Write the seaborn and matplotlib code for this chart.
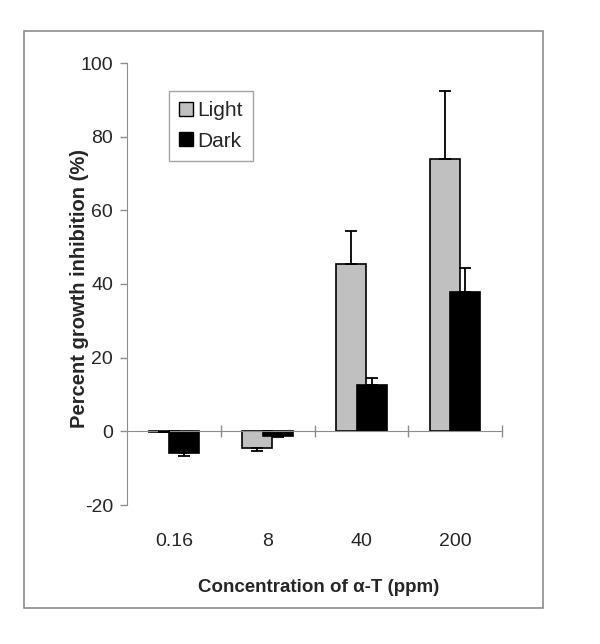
import matplotlib
matplotlib.use("Agg")
import matplotlib.pyplot as plt
import matplotlib.patches as mpatches
import numpy as np
import pandas as pd
import seaborn as sns

# data
categories = ['0.16', '8', '40', '200']
light = [-0.3, -4.6, 45.4, 74.0]
light_err = [0.0, 0.8, 8.9, 18.4]
dark = [-6.0, -1.4, 12.7, 37.8]
dark_err = [0.7, 0.2, 1.9, 6.5]
yticks = [-20, 0, 20, 40, 60, 80, 100]

sns.set_style('white')
plt.rcParams['font.family'] = ['Liberation Sans', 'DejaVu Sans']
plt.rcParams['axes.unicode_minus'] = False

df = pd.DataFrame({
    'conc': categories * 2,
    'value': light + dark,
    'light': ['Light'] * 4 + ['Dark'] * 4,
})

fig = plt.figure(figsize=(6, 6.44), dpi=100)
ax = fig.add_axes([127 / 600, 1 - 505 / 644, 375 / 600, 442 / 644])

# outer chart frame
fig.patches.append(mpatches.Rectangle((24 / 600, 1 - 608 / 644), 519 / 600, 577 / 644,
                                      transform=fig.transFigure, fill=False,
                                      edgecolor='#8c8c8c', linewidth=1.2))

sns.barplot(data=df, x='conc', y='value', hue='light', order=categories,
            hue_order=['Light', 'Dark'], palette=['#c0c0c0', 'black'],
            width=0.64, edgecolor='black', linewidth=1.2, errorbar=None,
            saturation=1, ax=ax)

# make the two series overlap a bit, like the original
shifts = [0.05, -0.05]
for cont, s in zip(ax.containers, shifts):
    for bar in cont:
        bar.set_x(bar.get_x() + s)

x = np.arange(len(categories))
for vals, errs, off in [(light, light_err, -0.11), (dark, dark_err, 0.11)]:
    vals = np.array(vals)
    errs = np.array(errs)
    lo = np.where(vals < 0, errs, 0)
    hi = np.where(vals >= 0, errs, 0)
    ax.errorbar(x + off, vals, yerr=[lo, hi], fmt='none', ecolor='black',
                elinewidth=1.3, capsize=4.5, capthick=1.3, zorder=3)

ax.set_xlim(-0.5, 3.5)
ax.set_ylim(-20, 100)
ax.set_yticks(yticks)

for side in ['top', 'right']:
    ax.spines[side].set_visible(False)
ax.spines['left'].set_color('#8c8c8c')
ax.spines['bottom'].set_color('#8c8c8c')
ax.spines['bottom'].set_position(('data', 0))

ax.set_xticks(x)
ax.set_xticks([0.5, 1.5, 2.5, 3.5], minor=True)
ax.tick_params(axis='x', which='major', length=0, pad=73, labelsize=14)
ax.tick_params(axis='x', which='minor', length=9, direction='inout',
               color='#8c8c8c', width=1, bottom=True)
ax.tick_params(axis='y', length=5, direction='out', color='#8c8c8c',
               width=1, left=True, labelsize=14, pad=5)

ax.set_xlabel('Concentration of α-T (ppm)', fontsize=13.5, fontweight='bold')
ax.xaxis.set_label_coords(0.51, -0.168)
ax.set_ylabel('Percent growth inhibition (%)', fontsize=14.5, fontweight='bold')
ax.yaxis.set_label_coords(-0.101, 0.49)

leg = ax.legend(loc='upper left', bbox_to_anchor=(0.112, 0.937), borderaxespad=0,
                fontsize=15, frameon=True, fancybox=False, edgecolor='#8c8c8c',
                handlelength=0.65, handleheight=0.65, handletextpad=0.2,
                labelspacing=0.55, borderpad=0.5, title=None)
leg.get_frame().set_linewidth(1)
for h in leg.legend_handles:
    h.set_edgecolor('black')
    h.set_linewidth(1)

fig.savefig('out.png', dpi=100)
